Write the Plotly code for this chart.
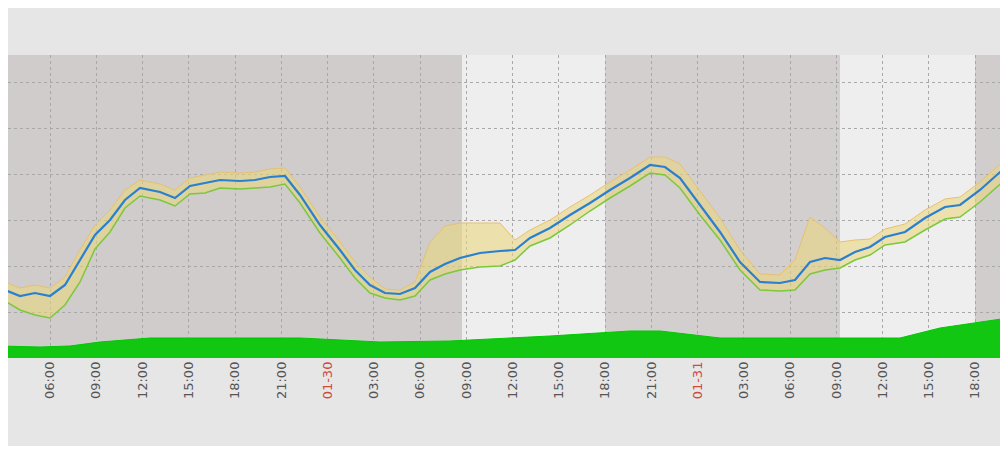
import plotly.graph_objects as go

px_x = [0,20,35,50,65,80,95,110,125,140,160,175,190,205,220,240,255,270,285,300,320,340,355,370,385,400,415,430,445,460,480,500,515,530,550,570,590,610,630,650,665,680,700,720,740,760,780,795,810,825,840,855,870,885,905,925,945,960,980,1008]
avg_px = [288,296,293,296,285,260,235,220,200,188,192,198,186,183,180,181,180,177,176,195,225,250,270,285,293,294,288,272,264,258,253,251,250,238,228,215,203,190,178,165,167,178,205,232,262,282,283,280,262,258,260,252,247,237,232,218,207,205,190,165]
hi_off = [8,8,8,8,8,10,10,10,10,8,8,8,8,8,8,8,8,8,8,8,8,8,8,8,4,4,6,30,38,35,30,28,10,8,8,8,8,8,8,8,10,14,14,14,12,8,8,20,45,30,18,12,8,8,8,8,8,8,8,8]
lo_off = [10,14,22,22,20,22,14,12,8,8,8,8,8,10,8,8,8,10,8,8,8,8,8,8,5,6,8,8,10,12,14,15,10,8,10,10,8,8,8,8,8,10,10,8,8,8,8,10,12,12,8,8,8,8,10,12,12,12,12,12]
green_px_x = [0,40,70,100,150,300,380,450,550,630,660,720,900,940,1008]
green_h = [12,11,12,16,20,20,16,17,22,27,27,20,20,30,40]

SCALE = 15.42
def hx(p): return 6 + (p - 50) / SCALE
BOT = 358
t = [hx(p) for p in px_x]
avg = [BOT-p for p in avg_px]
hi = [a+h for a,h in zip(avg,hi_off)]
lo = [a-l for a,l in zip(avg,lo_off)]
gt = [hx(p) for p in green_px_x]

fig = go.Figure()
fig.add_trace(go.Scatter(x=gt, y=green_h, mode='lines', line=dict(color='#00c800', width=1), fill='tozeroy', fillcolor='#11c711'))
fig.add_trace(go.Scatter(x=t, y=hi, mode='lines', line=dict(color='#e8c070', width=1)))
fig.add_trace(go.Scatter(x=t, y=lo, mode='lines', line=dict(color='#7cc83c', width=1.5), fill='tonexty', fillcolor='rgba(235,215,120,0.55)'))
fig.add_trace(go.Scatter(x=t, y=avg, mode='lines', line=dict(color='#2a7fd0', width=2.2)))

shades = [(0, 462, '#cfcccb'), (462, 605, '#eeeeee'), (605, 840, '#d2cfce'), (840, 975, '#eeeeee'), (975, 1008, '#d0cdcc')]
for a, b, c in shades:
    fig.add_shape(type='rect', xref='x', yref='paper', x0=hx(a), x1=hx(b), y0=0, y1=1, fillcolor=c, line_width=0, layer='below')

tick_vals = list(range(3, 67, 3))
tick_text = []
for h in tick_vals:
    d, hh = divmod(h, 24)
    if hh == 0:
        tick_text.append('<span style="color:#d04a3a">01-%02d</span>' % (29 + d))
    else:
        tick_text.append('%02d:00' % hh)

fig.update_layout(
    width=992, height=438, margin=dict(l=0, r=0, t=47, b=88),
    paper_bgcolor='#e6e6e6', plot_bgcolor='#dddddd', showlegend=False,
    xaxis=dict(range=[hx(8), hx(1000)], tickvals=tick_vals, ticktext=tick_text, tickangle=-90,
               showgrid=True, gridcolor='#a8a8a8', griddash='dot', gridwidth=1,
               tickfont=dict(family='DejaVu Sans', size=13, color='#555555'), zeroline=False),
    yaxis=dict(range=[0, 303], dtick=46, showgrid=True, gridcolor='#a8a8a8', griddash='dot',
               showticklabels=False, zeroline=False),
)
fig.write_html('out.html')
